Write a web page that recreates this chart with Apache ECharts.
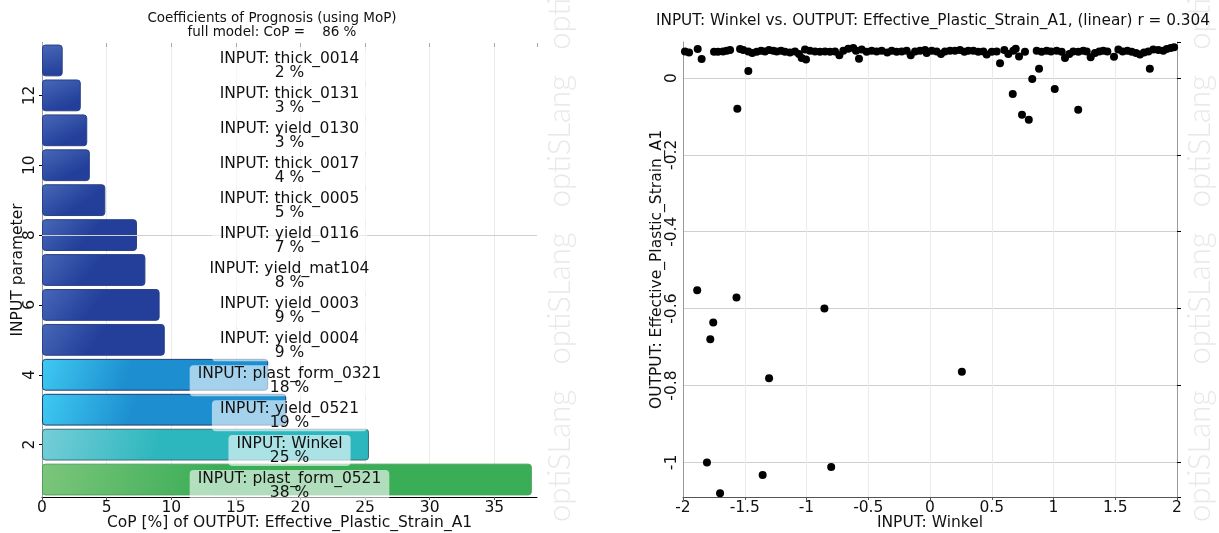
<!DOCTYPE html>
<html>
<head>
<meta charset="utf-8">
<script src="https://cdn.jsdelivr.net/npm/echarts@6/dist/echarts.min.js"></script>
<style>
html, body { margin: 0; padding: 0; background: #fff; }
#chart { width: 1219px; height: 533px; }
</style>
</head>
<body>
<div id="chart"></div>
<script>
// CoP bars, bottom to top
var paramNames = ['plast_form_0521', 'Winkel', 'yield_0521', 'plast_form_0321', 'yield_0004', 'yield_0003',
    'yield_mat104', 'yield_0116', 'thick_0005', 'thick_0017', 'yield_0130', 'thick_0131', 'thick_0014'];
var copValues = [37.9, 25.3, 18.9, 17.5, 9.5, 9.1, 8.0, 7.35, 4.9, 3.7, 3.5, 3.0, 1.6];
var copText = ['38', '25', '19', '18', '9', '9', '8', '7', '5', '4', '3', '3', '2'];
var paramIndex = ['1', '2', '3', '4', '5', '6', '7', '8', '9', '10', '11', '12', '13'];
var fullCoP = 86;

// Winkel vs Effective_Plastic_Strain_A1 samples [x, y]
var samples = [
    [-1.984, 0.069], [-1.951, 0.066], [-1.881, 0.075], [-1.849, 0.049], [-1.749, 0.068], [-1.717, 0.068],
    [-1.676, 0.069], [-1.646, 0.071], [-1.619, 0.073], [-1.538, 0.075], [-1.512, 0.073], [-1.471, 0.018],
    [-1.471, 0.069], [-1.439, 0.065], [-1.403, 0.068], [-1.368, 0.071], [-1.336, 0.069], [-1.304, 0.073],
    [-1.269, 0.071], [-1.241, 0.069], [-1.206, 0.071], [-1.174, 0.068], [-1.134, 0.066], [-1.093, 0.069],
    [-1.061, 0.062], [-1.039, 0.052], [-1.012, 0.074], [-1.004, 0.048], [-0.972, 0.071], [-0.931, 0.069],
    [-0.891, 0.068], [-0.850, 0.069], [-0.810, 0.068], [-0.769, 0.069], [-0.734, 0.059], [-0.702, 0.071],
    [-0.662, 0.076], [-0.621, 0.078], [-0.599, 0.071], [-0.575, 0.050], [-0.553, 0.074], [-0.513, 0.068],
    [-0.472, 0.071], [-0.432, 0.069], [-0.391, 0.071], [-0.346, 0.066], [-0.310, 0.071], [-0.270, 0.068],
    [-0.229, 0.069], [-0.189, 0.071], [-0.156, 0.059], [-0.121, 0.069], [-0.081, 0.071], [-0.040, 0.073],
    [-0.027, 0.065], [0.014, 0.071], [0.054, 0.069], [0.089, 0.062], [0.121, 0.069], [0.162, 0.071],
    [0.202, 0.071], [0.243, 0.073], [0.278, 0.068], [0.310, 0.071], [0.351, 0.071], [0.391, 0.068],
    [0.432, 0.069], [0.459, 0.061], [0.500, 0.068], [0.540, 0.069], [0.567, 0.038], [0.602, 0.073],
    [0.634, 0.062], [0.674, 0.071], [0.694, 0.076], [0.721, 0.056], [0.769, 0.068], [0.864, 0.071],
    [0.904, 0.068], [0.945, 0.071], [0.980, 0.069], [1.026, 0.071], [1.066, 0.068], [1.093, 0.052],
    [1.128, 0.062], [1.160, 0.069], [1.201, 0.068], [1.241, 0.071], [1.269, 0.069], [1.301, 0.054],
    [1.336, 0.065], [1.371, 0.069], [1.403, 0.071], [1.436, 0.069], [1.490, 0.055], [1.525, 0.074],
    [1.560, 0.069], [1.598, 0.071], [1.633, 0.068], [1.668, 0.065], [1.700, 0.061], [1.733, 0.066],
    [1.768, 0.069], [1.808, 0.074], [1.849, 0.073], [1.889, 0.071], [1.917, 0.075], [1.949, 0.078],
    [1.976, 0.080],
    [-1.560, -0.080], [0.670, -0.042], [0.745, -0.096], [0.800, -0.109], [0.828, -0.003], [0.883, 0.024],
    [1.010, -0.029], [1.200, -0.083], [1.780, 0.024],
    [-1.885, -0.552], [-1.567, -0.571], [-0.855, -0.600], [-1.755, -0.636], [-1.779, -0.680],
    [-1.303, -0.781], [0.258, -0.764], [-1.806, -1.000], [-0.800, -1.012], [-1.355, -1.033], [-1.700, -1.080]
];
var rValue = 0.304;

var FONT = 'DejaVu Sans';
var TXT = '#111';
var FS = 15.5;

var myChart = echarts.init(document.getElementById('chart'));

function grad(a, b) {
    return new echarts.graphic.LinearGradient(0, 0, 0.35, 1, [
        { offset: 0, color: a }, { offset: 1, color: b }
    ]);
}
function barStyle(rank) {
    if (rank === 0) return { color: grad('#7cc67a', '#3aad57'), borderColor: '#4f9f5f' };
    if (rank === 1) return { color: grad('#76ced8', '#2cb6bd'), borderColor: '#3c6f78' };
    if (rank <= 3) return { color: grad('#3fcaf2', '#1d8fd0'), borderColor: '#1f3d6e' };
    return { color: grad('#4868b8', '#233f9a'), borderColor: '#2a3f86' };
}

var xMaxCop = 38.3;
var labelX = xMaxCop / 2;

var barData = copValues.map(function (v, i) {
    var s = barStyle(i);
    return { value: v, itemStyle: { color: s.color, borderColor: s.borderColor, borderWidth: 1, borderRadius: 3 } };
});

var evenOnly = function (idx) { return idx % 2 === 1; };

option = {
    animation: false,
    backgroundColor: '#fff',
    textStyle: { fontFamily: FONT, color: TXT },
    title: [
        {
            text: 'Coefficients of Prognosis (using MoP)\nfull model: CoP =    ' + fullCoP + ' %',
            left: 267, top: 6, textAlign: 'center',
            textStyle: { fontFamily: FONT, fontSize: 13.5, fontWeight: 'normal', color: TXT, lineHeight: 14 }
        },
        {
            text: 'INPUT: Winkel vs. OUTPUT: Effective_Plastic_Strain_A1, (linear) r = ' + rValue,
            left: 928, top: 9, textAlign: 'center',
            textStyle: { fontFamily: FONT, fontSize: 15.3, fontWeight: 'normal', color: TXT }
        }
    ],
    graphic: [
        {
            type: 'text', x: 560, y: 522, rotation: Math.PI / 2, silent: true,
            style: { text: 'optiSLang   optiSLang   optiSLang   optiSLang', fontFamily: 'Lato', fontWeight: 300,
                fontSize: 31, fill: '#e8e8e8', textAlign: 'left', textVerticalAlign: 'middle' }
        },
        {
            type: 'text', x: 1200, y: 522, rotation: Math.PI / 2, silent: true,
            style: { text: 'optiSLang   optiSLang   optiSLang   optiSLang', fontFamily: 'Lato', fontWeight: 300,
                fontSize: 31, fill: '#e8e8e8', textAlign: 'left', textVerticalAlign: 'middle' }
        }
    ],
    grid: [
        { left: 42, top: 43, width: 495, height: 454, outerBoundsMode: 'none' },
        { left: 683, top: 42, width: 494, height: 455, outerBoundsMode: 'none' }
    ],
    xAxis: [
        {
            gridIndex: 0, type: 'value', min: 0, max: xMaxCop, interval: 5,
            name: 'CoP [%] of OUTPUT: Effective_Plastic_Strain_A1', nameLocation: 'middle', nameGap: 18,
            nameMoveOverlap: false,
            nameTextStyle: { fontFamily: FONT, fontSize: FS, color: TXT },
            axisLine: { show: true, lineStyle: { color: '#000', width: 1 } },
            axisTick: { show: true, length: 3, lineStyle: { color: '#555' } },
            axisLabel: { fontFamily: FONT, fontSize: FS, color: TXT, margin: 3, showMaxLabel: false },
            splitLine: { show: true, showMaxLine: false, lineStyle: { color: '#ebebeb' } }
        },
        {
            gridIndex: 0, type: 'value', min: 0, max: xMaxCop, interval: 5, position: 'top',
            axisLine: { show: false },
            axisTick: { show: true, inside: true, length: 4, lineStyle: { color: '#aaa' } },
            axisLabel: { show: false }, splitLine: { show: false }
        },
        {
            gridIndex: 1, type: 'value', min: -2, max: 2, interval: 0.5,
            name: 'INPUT: Winkel', nameLocation: 'middle', nameGap: 18, nameMoveOverlap: false,
            nameTextStyle: { fontFamily: FONT, fontSize: FS, color: TXT },
            axisLine: { show: true, onZero: false, lineStyle: { color: '#555', width: 1 } },
            axisTick: { show: true, length: 3, lineStyle: { color: '#555' } },
            axisLabel: { fontFamily: FONT, fontSize: FS, color: TXT, margin: 3 },
            splitLine: { show: true, showMinLine: false, showMaxLine: false, lineStyle: { color: '#ebebeb' } }
        }
    ],
    yAxis: [
        {
            gridIndex: 0, type: 'category', data: paramIndex,
            name: 'INPUT parameter', nameLocation: 'middle', nameGap: 16, nameRotate: 90, nameMoveOverlap: false,
            nameTextStyle: { fontFamily: FONT, fontSize: FS, color: TXT },
            axisLine: { show: true, lineStyle: { color: '#000' } },
            axisTick: { show: true, length: 3, alignWithLabel: true, interval: evenOnly, lineStyle: { color: '#000' } },
            axisLabel: { fontFamily: FONT, fontSize: FS, color: TXT, rotate: 90, margin: 4, interval: evenOnly },
            splitLine: { show: false }
        },
        {
            gridIndex: 0, type: 'category', data: paramIndex, position: 'right',
            axisLine: { show: true, lineStyle: { color: '#999' } },
            axisTick: { show: true, length: 4, alignWithLabel: true, interval: function (idx) { return idx === 7; },
                lineStyle: { color: '#000' } },
            axisLabel: { show: false }, splitLine: { show: false }
        },
        {
            gridIndex: 1, type: 'value', min: -1.09, max: 0.0935,
            name: 'OUTPUT: Effective_Plastic_Strain_A1', nameLocation: 'middle', nameGap: 18, nameRotate: 90,
            nameMoveOverlap: false,
            nameTextStyle: { fontFamily: FONT, fontSize: FS, color: TXT },
            axisLine: { show: true, onZero: false, lineStyle: { color: '#999' } },
            axisTick: { show: false },
            axisLabel: { fontFamily: FONT, fontSize: FS, color: TXT, rotate: 90, margin: 3,
                showMinLabel: false, showMaxLabel: false },
            splitLine: { show: true, showMinLine: false, showMaxLine: false, lineStyle: { color: '#cfcfcf' } }
        },
        {
            gridIndex: 1, type: 'value', min: -1.09, max: 0.0935, position: 'right',
            axisLine: { show: true, onZero: false, lineStyle: { color: '#999' } },
            axisTick: { show: true, length: 4, lineStyle: { color: '#000' } },
            axisLabel: { show: false }, splitLine: { show: false }
        }
    ],
    series: [
        {
            type: 'scatter', xAxisIndex: 0, yAxisIndex: 0, z: 1, data: [], silent: true,
            markLine: {
                silent: true, symbol: 'none', label: { show: false },
                lineStyle: { color: '#cfcfcf', type: 'solid', width: 1 },
                data: [{ yAxis: 7 }]
            }
        },
        {
            name: 'CoP', type: 'bar', xAxisIndex: 0, yAxisIndex: 0, z: 2,
            barWidth: '91%', data: barData
        },
        {
            type: 'scatter', xAxisIndex: 0, yAxisIndex: 0, z: 5, silent: true, symbolSize: 0,
            itemStyle: { opacity: 1 },
            data: paramNames.map(function (n, i) { return [labelX, i]; }),
            label: {
                show: true, position: 'inside', offset: [0, 6],
                formatter: function (p) { return 'INPUT: ' + paramNames[p.dataIndex] + '\n' + copText[p.dataIndex] + ' %'; },
                fontFamily: FONT, fontSize: FS, color: TXT, lineHeight: 14, align: 'center',
                backgroundColor: 'rgba(255,255,255,0.6)', padding: [2, 8, 1, 8], borderRadius: 4
            }
        },
        {
            name: 'samples', type: 'scatter', xAxisIndex: 2, yAxisIndex: 2,
            symbolSize: 8, itemStyle: { color: '#000', opacity: 1 },
            data: samples
        }
    ]
};
myChart.setOption(option);
</script>
</body>
</html>
